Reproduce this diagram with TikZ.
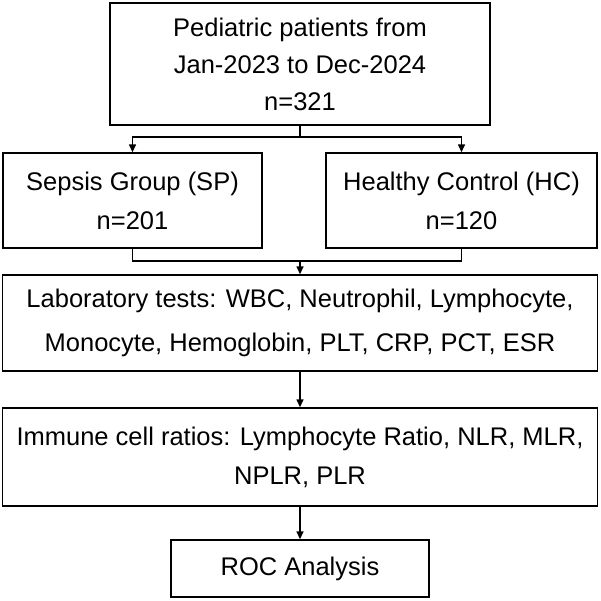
\documentclass[tikz,border=0pt]{standalone}
\usepackage{fontspec}
\setmainfont{Liberation Sans}
\usetikzlibrary{arrows.meta}

\begin{document}
\begin{tikzpicture}[x=1pt, y=-1pt, >={Triangle[length=8pt,width=7pt]}, line width=1.4pt,
  box/.style={draw, align=center, inner sep=0pt, font=\fontsize{25.5}{39}\selectfont}]
  \useasboundingbox (0,0) rectangle (601,600);
  % cajas
  \node[box, minimum width=380pt, minimum height=122pt] (top) at (300,64)
    {Pediatric patients from\\[-2pt]Jan-2023 to Dec-2024\\[-2pt]n=321};
  \node[box, minimum width=259pt, minimum height=95pt] (sp) at (132.5,200.5)
    {Sepsis Group (SP)\\n=201};
  \node[box, minimum width=271pt, minimum height=95pt] (hc) at (461.5,200.5)
    {Healthy Control (HC)\\n=120};
  \node[box, minimum width=595pt, minimum height=96pt] (lab) at (300,323)
    {Laboratory tests: WBC, Neutrophil, Lymphocyte,\\[5pt]Monocyte, Hemoglobin, PLT, CRP, PCT, ESR};
  \node[box, minimum width=595pt, minimum height=98pt] (ratio) at (300,457)
    {Immune cell ratios: Lymphocyte Ratio, NLR, MLR,\\NPLR, PLR};
  \node[box, minimum width=258pt, minimum height=57pt] (roc) at (300,568.5)
    {ROC Analysis};
  % ramas
  \coordinate (split) at (300,137);
  \coordinate (merge) at (300,261);
  \draw (top.south) -- (split);
  \draw[->] (split) -| (sp.north);
  \draw[->] (split) -| (hc.north);
  \draw (sp.south) |- (merge);
  \draw (hc.south) |- (merge);
  \draw[->] (merge) -- (lab.north);
  \draw[->] (lab.south) -- (ratio.north);
  \draw[->] (ratio.south) -- (roc.north);
\end{tikzpicture}
\end{document}
